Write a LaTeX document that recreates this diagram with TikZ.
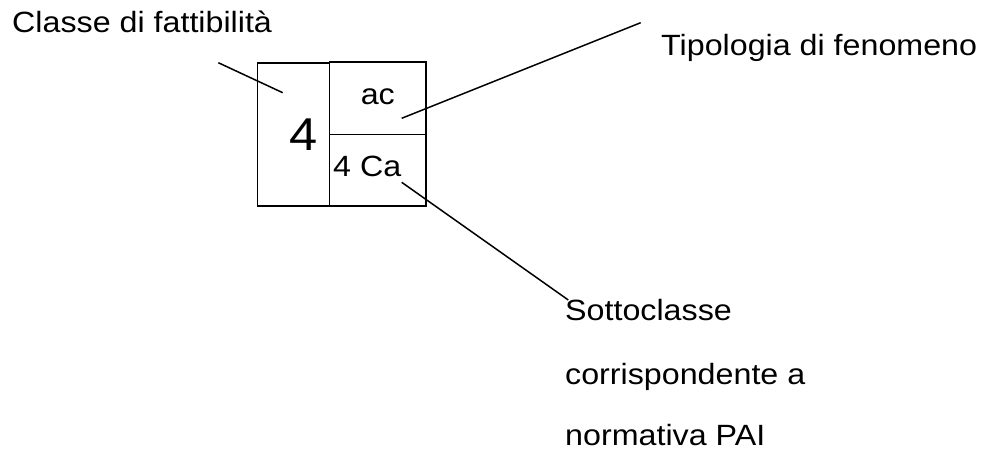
\documentclass[tikz,border=0pt]{standalone}
\usepackage{fontspec}
\setmainfont[FakeStretch=1.1]{Liberation Sans}
\begin{document}
\begin{tikzpicture}[x=1pt,y=-1pt,
  lbl/.style={anchor=base west,inner sep=0pt,font=\fontsize{29.3}{34}\selectfont},
  big/.style={anchor=base west,inner sep=0pt,font=\fontsize{46}{54}\selectfont},
  cell/.style={draw,line width=1.6pt,inner sep=0pt},
  conn/.style={line width=1.5pt}]
\useasboundingbox (0,0) rectangle (981,450);
% boxes
\node[cell,minimum width=72pt,minimum height=142.7pt] (clsbox) at (293.3,134.6) {};
\node[cell,minimum width=96.5pt,minimum height=72.3pt] (tipbox) at (377.75,98.15) {};
\node[cell,minimum width=96.5pt,minimum height=71.7pt] (subbox) at (377.75,170.15) {};
% texts in boxes
\node[big] (four) at (289.4,150.7) {4};
\node[lbl] (ac) at (360.6,104.3) {ac};
\node[lbl] (fourca) at (333,176.7) {4 Ca};
% labels
\node[lbl] (classe) at (12,32.3) {Classe di fattibilità};
\node[lbl] (tipologia) at (661,55) {Tipologia di fenomeno};
\node[lbl] (sotto1) at (565,320.5) {Sottoclasse};
\node[lbl] (sotto2) at (565,384) {corrispondente a};
\node[lbl] (sotto3) at (565,445.5) {normativa PAI};
% connector ends
\coordinate (c1a) at (218.3,62.7);
\coordinate (c1b) at (282.7,92.7);
\coordinate (c2a) at (401.7,118.3);
\coordinate (c2b) at (640.7,22.7);
\coordinate (c3a) at (401.7,182.3);
\coordinate (c3b) at (568.3,300);
\draw[conn] (c1a) -- (c1b);
\draw[conn] (c2a) -- (c2b);
\draw[conn] (c3a) -- (c3b);
\end{tikzpicture}
\end{document}
